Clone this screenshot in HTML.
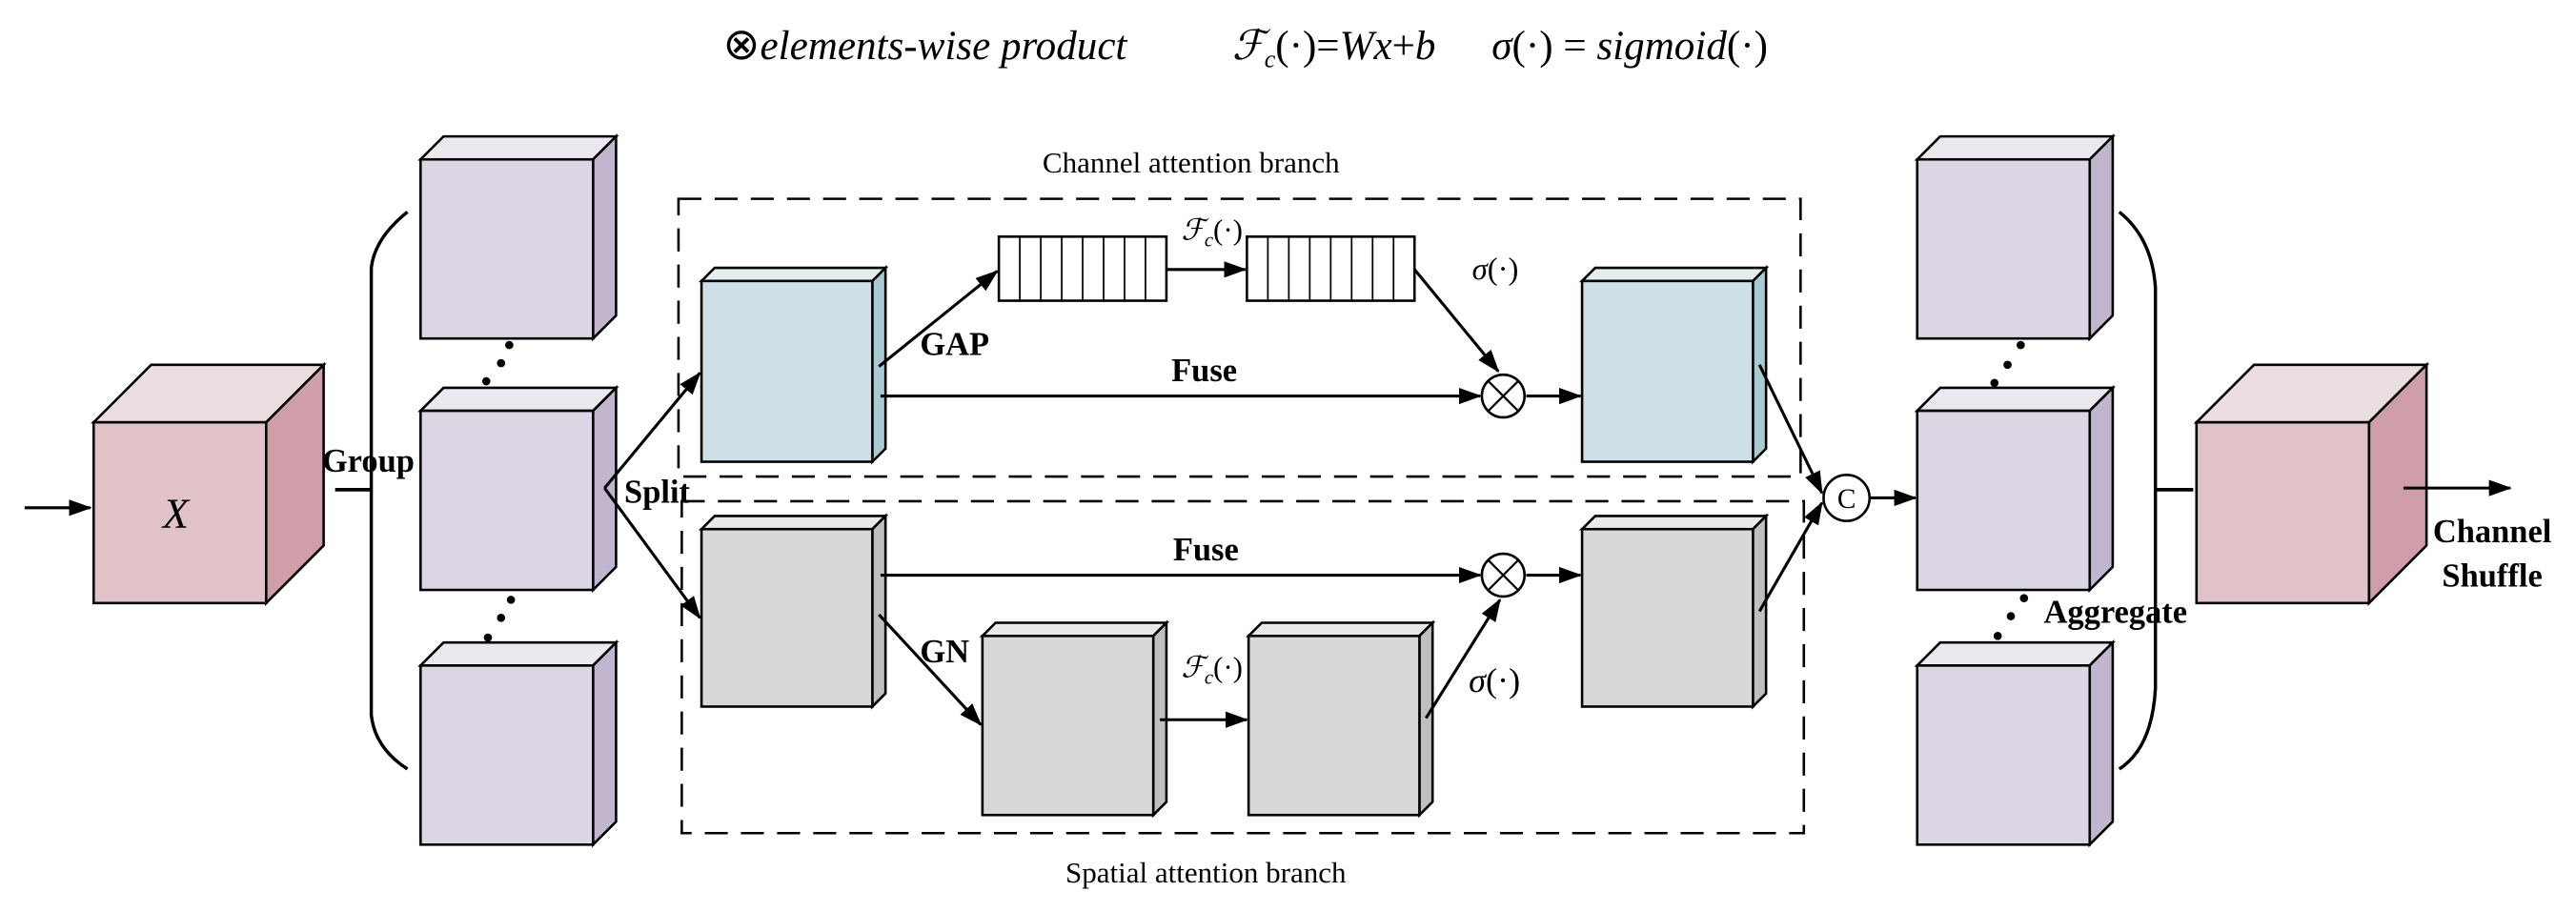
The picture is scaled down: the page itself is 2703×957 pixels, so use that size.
<!DOCTYPE html>
<html><head><meta charset="utf-8"><style>
html,body{margin:0;padding:0;background:#fff}
svg{display:block}
text{font-family:"Liberation Serif",serif;fill:#000}
.b{font-weight:bold;font-size:20px}
.it{font-style:italic}
</style></head><body>
<svg width="2703" height="957" viewBox="0 0 1568 555" preserveAspectRatio="none" xmlns="http://www.w3.org/2000/svg">
<defs>
<marker id="ah" markerWidth="14" markerHeight="10" refX="13" refY="5" orient="auto" markerUnits="userSpaceOnUse">
<path d="M0,0 L14,5 L0,10 Z" fill="#000"/></marker>
</defs>
<g stroke="#000" stroke-width="1.5" stroke-linejoin="miter">
<polygon points="57,257 92,222 197,222 162,257" fill="#ecdde1"/>
<polygon points="162,257 197,222 197,332 162,367" fill="#d09ea8"/>
<rect x="57" y="257" width="105" height="110" fill="#e0c2c8"/>
<polygon points="1337,257 1372,222 1477,222 1442,257" fill="#ecdde1"/>
<polygon points="1442,257 1477,222 1477,332 1442,367" fill="#d09ea8"/>
<rect x="1337" y="257" width="105" height="110" fill="#e0c2c8"/>

<g id="lav">
<polygon points="256,97 270,83 375,83 361,97" fill="#ebe8f0"/>
<polygon points="361,97 375,83 375,192 361,206" fill="#c2b6cf"/>
<rect x="256" y="97" width="105" height="109" fill="#dcd6e4"/>
</g>
<use href="#lav" y="153"/>
<use href="#lav" y="308"/>
<use href="#lav" x="911"/>
<use href="#lav" x="911" y="153"/>
<use href="#lav" x="911" y="308"/>

<g id="blu">
<polygon points="427,171 435,163 539,163 531,171" fill="#e4eef1"/>
<polygon points="531,171 539,163 539,273 531,281" fill="#a9cad3"/>
<rect x="427" y="171" width="104" height="110" fill="#cde0e5"/>
</g>
<use href="#blu" x="536"/>
<g id="gry">
<polygon points="427,322 435,314 539,314 531,322" fill="#e8e8e8"/>
<polygon points="531,322 539,314 539,422 531,430" fill="#bfbfbf"/>
<rect x="427" y="322" width="104" height="108" fill="#d8d8d8"/>
</g>
<use href="#gry" x="536"/>
<g id="gry2">
<polygon points="598,387 606,379 710,379 702,387" fill="#e8e8e8"/>
<polygon points="702,387 710,379 710,488 702,496" fill="#bfbfbf"/>
<rect x="598" y="387" width="104" height="109" fill="#d8d8d8"/>
</g>
<use href="#gry2" x="162"/>

<rect x="413" y="121" width="683" height="169" fill="none" stroke-dasharray="14,8"/>
<rect x="415" y="305" width="683" height="202" fill="none" stroke-dasharray="14,8"/>

<g fill="#fff">
<rect x="608" y="144" width="102" height="39"/>
<rect x="759" y="144" width="102" height="39"/>
</g>
<path d="M620.75,144V183M633.5,144V183M646.25,144V183M659,144V183M671.75,144V183M684.5,144V183M697.25,144V183
M771.75,144V183M784.5,144V183M797.25,144V183M810,144V183M822.75,144V183M835.5,144V183M848.25,144V183" fill="none" stroke-width="1"/>

<path d="M248,129 Q228,145 226,163 V435 Q228,455 248,468" fill="none" stroke-width="2"/>
<path d="M204,298 H226" stroke-width="2.2"/>
<path d="M1290,129 Q1310,145 1312,175 V419 Q1310,455 1290,468" fill="none" stroke-width="2"/>
<path d="M1312,298 H1335" stroke-width="2.2"/>

<g fill="none" stroke-width="1.8" marker-end="url(#ah)">
<path d="M15,309 H55"/>
<path d="M368,297 L426,227"/>
<path d="M368,297 L426,376"/>
<path d="M535,223 L607,165"/>
<path d="M710,164 H758"/>
<path d="M861,164 L912,226"/>
<path d="M536,241 H901"/>
<path d="M929,241 H962"/>
<path d="M536,350 H901"/>
<path d="M929,350 H962"/>
<path d="M535,374 L597,441"/>
<path d="M706,438 H759"/>
<path d="M868,437 L913,365"/>
<path d="M1071,222 L1109,300"/>
<path d="M1071,372 L1109,306"/>
<path d="M1138,303 H1166"/>
<path d="M1463,297 H1528"/>
</g>
<g fill="#fff">
<circle cx="915" cy="241" r="13"/>
<circle cx="915" cy="350" r="13"/>
<circle cx="1124" cy="303" r="14"/>
</g>
<path d="M906,232L924,250M924,232L906,250M906,341L924,359M924,341L906,359" stroke-width="1.3"/>
</g>
<g fill="#000">
<circle cx="310" cy="210" r="2.5"/><circle cx="305" cy="221" r="2.5"/><circle cx="296" cy="232" r="2.5"/>
<circle cx="311" cy="365" r="2.5"/><circle cx="305" cy="376" r="2.5"/><circle cx="297" cy="388" r="2.5"/>
<circle cx="1230" cy="210" r="2.5"/><circle cx="1222" cy="222" r="2.5"/><circle cx="1214" cy="233" r="2.5"/>
<circle cx="1232" cy="364" r="2.5"/><circle cx="1224" cy="375" r="2.5"/><circle cx="1216" cy="387" r="2.5"/>
</g>

<text x="440" y="36" font-size="25" class="it"><tspan font-style="normal" font-size="27">⊗</tspan>elements-wise product</text>
<text x="750" y="36" font-size="25" class="it">ℱ<tspan font-size="15" dy="5">c</tspan><tspan dy="-5" font-style="normal">(·)=</tspan>Wx<tspan font-style="normal">+</tspan>b</text>
<text x="908" y="36" font-size="25" class="it">σ<tspan font-style="normal">(·) = </tspan>sigmoid<tspan font-style="normal">(·)</tspan></text>
<text x="107" y="321" font-size="26" class="it" text-anchor="middle">X</text>
<text x="196" y="287" class="b">Group</text>
<text x="380" y="306" class="b">Split</text>
<text x="725" y="105" font-size="18" text-anchor="middle">Channel attention branch</text>
<text x="734" y="537" font-size="18" text-anchor="middle">Spatial attention branch</text>
<text x="560" y="216" class="b">GAP</text>
<text x="733" y="232" class="b" text-anchor="middle">Fuse</text>
<text x="734" y="341" class="b" text-anchor="middle">Fuse</text>
<text x="560" y="403" class="b">GN</text>
<text x="719" y="146" font-size="18" class="it">ℱ<tspan font-size="12" dy="4">c</tspan><tspan dy="-4" font-style="normal">(·)</tspan></text>
<text x="719" y="412" font-size="18" class="it">ℱ<tspan font-size="12" dy="4">c</tspan><tspan dy="-4" font-style="normal">(·)</tspan></text>
<text x="896" y="170" font-size="19" class="it">σ<tspan font-style="normal">(·)</tspan></text>
<text x="894" y="421" font-size="21" class="it">σ<tspan font-style="normal">(·)</tspan></text>
<text x="1124" y="309" font-size="17" text-anchor="middle">C</text>
<text x="1244" y="379" class="b">Aggregate</text>
<text x="1517" y="330" class="b" text-anchor="middle">Channel</text>
<text x="1517" y="357" class="b" text-anchor="middle">Shuffle</text>
</svg>
</body></html>
